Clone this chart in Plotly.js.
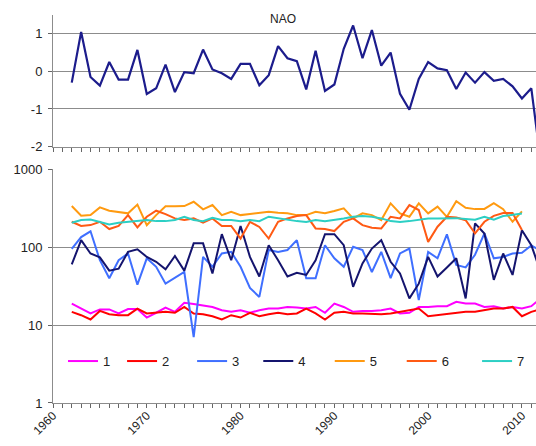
<!DOCTYPE html>
<html>
<head>
<meta charset="utf-8">
<script src="https://cdn.plot.ly/plotly-3.0.1.min.js"></script>
<style>html,body{margin:0;padding:0;background:#fff;}#chart{width:536px;height:446px;}</style>
</head>
<body>
<div id="chart"></div>
<script>
const years = [1962,1963,1964,1965,1966,1967,1968,1969,1970,1971,1972,1973,1974,1975,1976,1977,1978,1979,1980,1981,1982,1983,1984,1985,1986,1987,1988,1989,1990,1991,1992,1993,1994,1995,1996,1997,1998,1999,2000,2001,2002,2003,2004,2005,2006,2007,2008,2009,2010,2011,2012];
const naoValues = [-0.3,1.05,-0.15,-0.38,0.25,-0.22,-0.22,0.57,-0.6,-0.45,0.18,-0.55,-0.02,-0.05,0.58,0.05,-0.05,-0.2,0.2,0.2,-0.37,-0.1,0.67,0.35,0.27,-0.48,0.55,-0.52,-0.35,0.6,1.22,0.35,1.1,0.15,0.5,-0.6,-1.02,-0.2,0.25,0.08,0.03,-0.47,-0.03,-0.3,-0.02,-0.25,-0.2,-0.4,-0.72,-0.45,-2.4];
const series1 = [18.9,16.3,14.1,15.9,15.9,14.1,16.1,16.1,12.5,14.4,16.8,14.8,19.3,18.6,17.7,17.1,15.5,14.8,15.5,14.4,15.5,16.3,16.3,17.1,16.8,16.3,17.1,14.4,18.9,17.1,14.8,15.2,15.2,15.5,16.3,14.1,14.4,17.1,17.1,17.5,17.5,19.9,18.9,18.9,17.1,17.5,16.3,17.1,16.3,17.5,22];
const series2 = [14.8,13.4,11.8,15.2,13.8,13.4,13.4,16.3,14.1,14.4,14.8,14.4,17.1,14.1,13.8,13.0,11.8,13.4,12.5,14.4,13.0,13.8,14.4,13.8,14.1,16.3,14.1,11.8,14.4,14.8,14.1,14.1,13.8,13.8,14.1,14.8,15.5,16.3,13.0,13.4,13.8,14.4,14.8,14.8,15.5,16.3,16.3,17.1,13.0,14.8,16];
const series3 = [95,135,160,68,40,68,83,33,72,56,34,40,48,7,75,56,83,87,56,30,23,92,87,92,123,40,40,106,72,56,101,92,48,87,40,83,96,21,87,72,146,59,55,80,150,72,75,83,85,105,90];
const series4 = [60,123,83,74,50,53,87,94,75,65,52,77,50,112,112,46,147,68,187,75,42,106,68,42,47,44,68,147,147,106,31,62,96,123,65,46,22,34,75,42,55,72,22,202,150,38,83,44,165,106,48];
const series5 = [337,253,258,324,294,285,272,352,192,258,335,335,337,383,306,347,258,285,258,266,277,285,277,272,258,258,285,272,291,315,234,272,258,223,365,272,246,365,272,331,245,390,320,308,310,368,308,212,288];
const series6 = [212,187,192,212,171,187,258,179,246,294,266,234,223,234,206,234,187,187,129,212,182,129,212,234,251,258,174,171,161,212,234,192,178,174,246,234,347,300,117,183,246,240,222,150,212,252,275,275,166];
const series7 = [206,223,227,211,196,206,211,216,223,216,216,223,246,223,216,238,223,223,216,223,216,246,234,223,216,211,223,216,223,234,246,251,246,234,216,211,216,223,234,234,235,236,230,225,246,225,251,258,270];
const seriesNames = ['1','2','3','4','5','6','7'];
const seriesColors = ['#ff00ff','#ff0000','#3f6fff','#14146e','#ff9a10','#ff5a14','#2ccfc4'];
const naoTickVals = [-2,-1,0,1];
const naoTickText = ['-2','-1','0','1'];
const logTickVals = [1,10,100,1000];
const logTickText = ['1','10','100','1000'];
const decadeTicks = [1960,1970,1980,1990,2000,2010];

const allSeries = [series1,series2,series3,series4,series5,series6,series7];
const legendIds = ['legend','legend2','legend3','legend4','legend5','legend6','legend7'];
const legendX = [0.0207,0.143,0.288,0.425,0.573,0.722,0.878];

const traces = [{
  x: years, y: naoValues, xaxis: 'x2', yaxis: 'y2', type: 'scatter', mode: 'lines',
  line: {color: '#1c1c8c', width: 2.2}, showlegend: false, hoverinfo: 'skip'
}];
allSeries.forEach((s, k) => {
  traces.push({
    x: years.slice(0, s.length), y: s, xaxis: 'x', yaxis: 'y', type: 'scatter', mode: 'lines',
    name: seriesNames[k], legend: legendIds[k], line: {color: seriesColors[k], width: 2}, hoverinfo: 'skip'
  });
});

const gridC = '#8c8c8c';
const font = {family: 'Liberation Sans, Arial, sans-serif', size: 12, color: '#222'};
const xCommon = {
  range: [1960, 2011.5], showgrid: false, zeroline: false, showline: true, linecolor: gridC, linewidth: 1,
  ticks: 'outside', ticklen: 0, tickvals: decadeTicks,
  minor: {dtick: 1, ticks: 'outside', ticklen: 4, tickcolor: '#666', showgrid: false}
};
const layout = {
  width: 536, height: 446, margin: {l: 53, r: 0, t: 15, b: 43},
  paper_bgcolor: '#fff', plot_bgcolor: '#fff', font: font, showlegend: true,
  xaxis: Object.assign({}, xCommon, {anchor: 'y', tickangle: -45, tickfont: {size: 12, color: '#222'}, ticktext: decadeTicks.map(String)}),
  xaxis2: Object.assign({}, xCommon, {anchor: 'y2', showticklabels: false}),
  yaxis: {domain: [0, 0.6024], type: 'log', range: [0, 3], tickvals: logTickVals, ticktext: logTickText,
    showgrid: true, gridcolor: gridC, gridwidth: 1, zeroline: false, showline: true, linecolor: gridC,
    ticks: 'outside', ticklen: 4, tickcolor: '#666', tickfont: {size: 13, color: '#222'}, ticklabelstandoff: 3},
  yaxis2: {domain: [0.661, 1], range: [-2, 1.5], tickvals: naoTickVals, ticktext: naoTickText,
    showgrid: true, gridcolor: gridC, gridwidth: 1, zeroline: false, showline: true, linecolor: gridC,
    ticks: 'outside', ticklen: 4, tickcolor: '#666', tickfont: {size: 13, color: '#222'}, ticklabelstandoff: 3},
  annotations: [{text: 'NAO', xref: 'paper', yref: 'paper', x: 0.476, y: 0.99, showarrow: false,
    font: {size: 12, color: '#222'}, xanchor: 'center', yanchor: 'middle'}]
};
legendIds.forEach((id, k) => {
  layout[id] = {orientation: 'h', x: legendX[k], xanchor: 'left', y: 0.108, yanchor: 'middle',
    bgcolor: 'rgba(0,0,0,0)', borderwidth: 0, font: {size: 13, color: '#222'}};
});
Plotly.newPlot('chart', traces, layout, {staticPlot: true, displayModeBar: false});
</script>
</body>
</html>
